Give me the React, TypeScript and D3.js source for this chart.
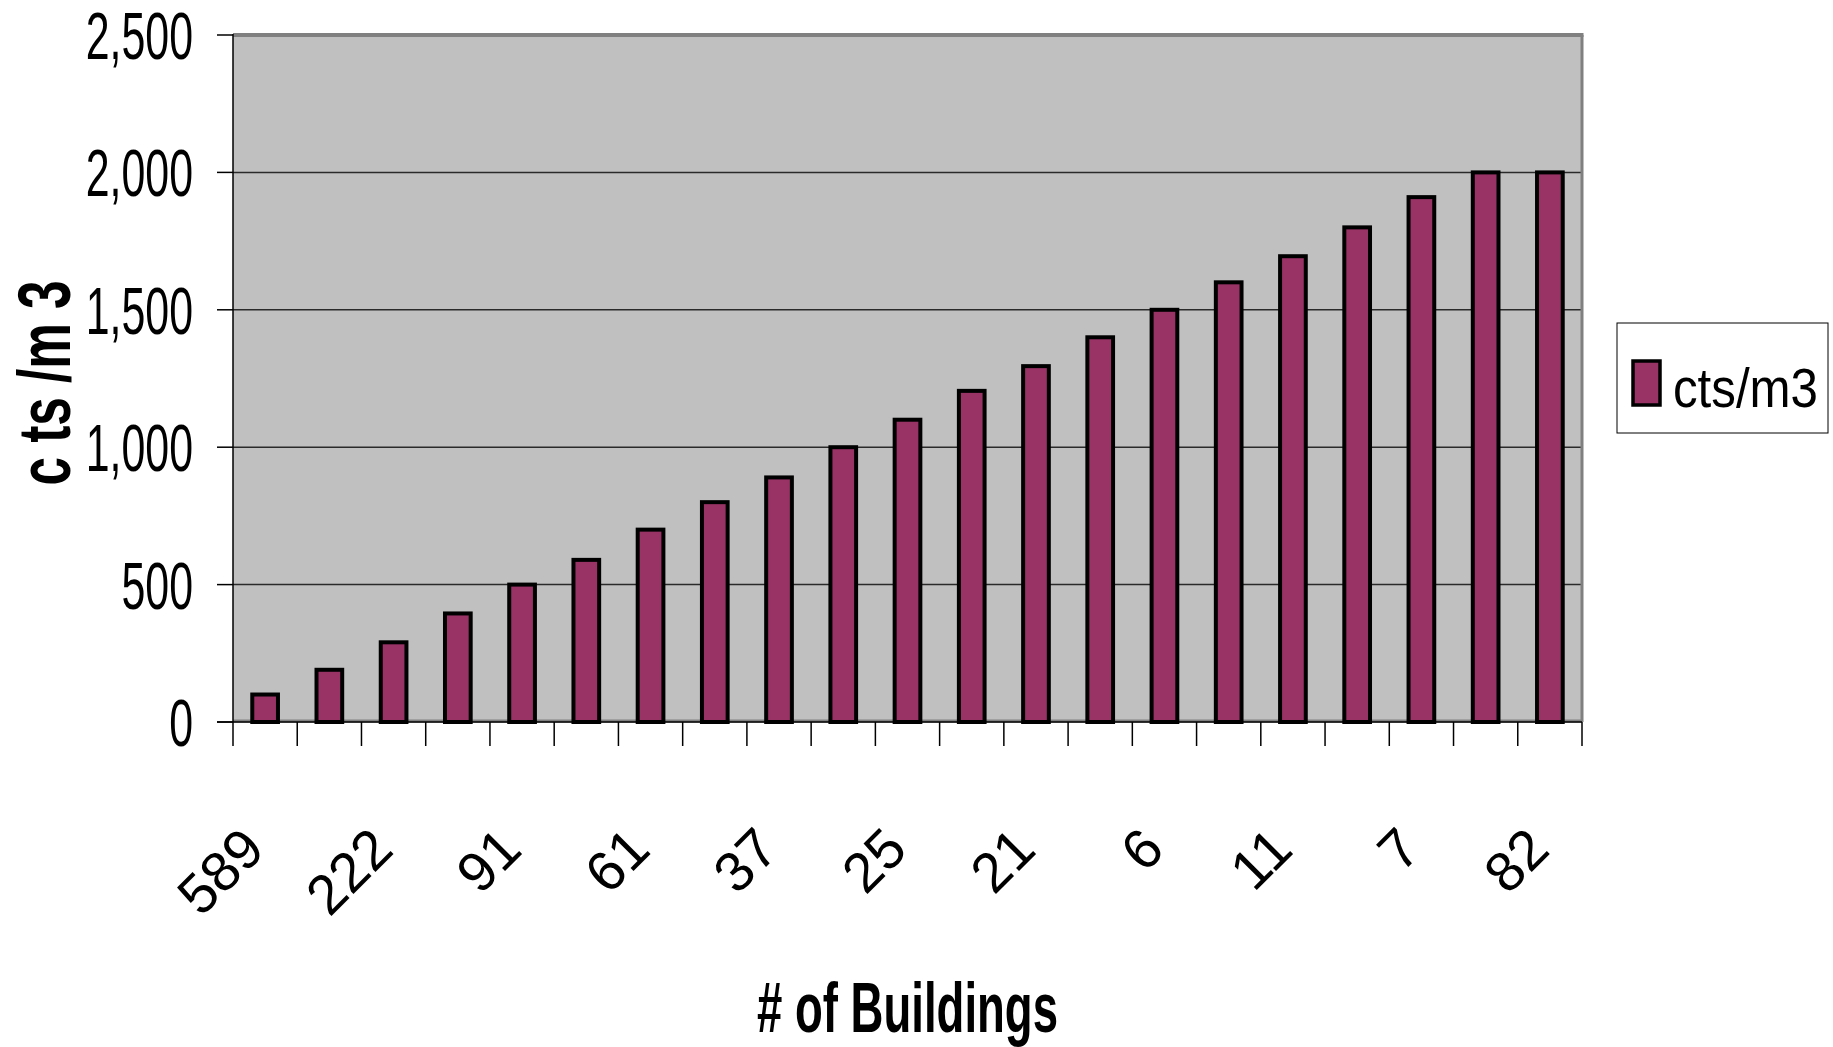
import React from "react";
import * as d3 from "d3";

const categoryIndex: number[] = [1, 2, 3, 4, 5, 6, 7, 8, 9, 10, 11, 12, 13, 14, 15, 16, 17, 18, 19, 20, 21];
const values: number[] = [100, 190, 290, 395, 500, 590, 700, 800, 890, 1000, 1100, 1205, 1295, 1400, 1500, 1600, 1695, 1800, 1910, 2000, 2000];
// Labels shown on the axis (every other category, starting with the first)
const shownLabels: string[] = ["589", "222", "91", "61", "37", "25", "21", "6", "11", "7", "82"];
const yTicks: number[] = [0, 500, 1000, 1500, 2000, 2500];
const seriesName = "cts/m3";
const yTitle = "c ts /m 3";
const xTitle = "# of Buildings";

const W = 1833;
const H = 1047;
const plot = { left: 233, right: 1582, top: 35, bottom: 722 };
const FONT = "'Liberation Sans', Arial, sans-serif";

export default function App() {
  const p = 0.6;
  const x = d3
    .scaleBand<number>()
    .domain(categoryIndex)
    .range([plot.left, plot.right])
    .paddingInner(p)
    .paddingOuter(p / 2);
  const step = x.step();
  const y = d3.scaleLinear().domain([0, 2500]).range([plot.bottom, plot.top]);
  const fmt = d3.format(",");

  const boundaries = d3.range(categoryIndex.length + 1).map((i) => plot.left + i * step);
  const labelled = categoryIndex.filter((_, i) => i % 2 === 0);

  return (
    <div style={{ position: "fixed", left: 0, top: 0 }}>
      <svg width={W} height={H} style={{ display: "block", background: "#fff" }}>
        {/* plot background */}
        <rect x={plot.left} y={plot.top} width={plot.right - plot.left} height={plot.bottom - plot.top} fill="#C0C0C0" />
        {/* gridlines */}
        {yTicks
          .filter((t) => t > 0 && t < 2500)
          .map((t) => (
            <line key={"g" + t} x1={plot.left} x2={plot.right} y1={y(t)} y2={y(t)} stroke="#2a2a2a" strokeWidth={1.5} />
          ))}
        {/* plot border (gray) */}
        <line x1={plot.left} x2={plot.right + 1.5} y1={plot.top} y2={plot.top} stroke="#808080" strokeWidth={4} />
        <line x1={plot.right} x2={plot.right} y1={plot.top} y2={plot.bottom} stroke="#808080" strokeWidth={3} />
        <line x1={plot.left} x2={plot.right} y1={plot.bottom - 1} y2={plot.bottom - 1} stroke="#808080" strokeWidth={3} />
        {/* bars */}
        {categoryIndex.map((c, i) => (
          <rect
            key={"b" + c}
            x={x(c)!}
            y={y(values[i])}
            width={x.bandwidth()}
            height={y(0) - y(values[i])}
            fill="#993366"
            stroke="#000"
            strokeWidth={4}
          />
        ))}
        {/* axes */}
        <line x1={plot.left} x2={plot.left} y1={plot.top - 1} y2={plot.bottom} stroke="#000" strokeWidth={1.5} />
        <line x1={plot.left - 16} x2={plot.right} y1={plot.bottom} y2={plot.bottom} stroke="#000" strokeWidth={1.5} />
        {yTicks.map((t) => (
          <g key={"yt" + t}>
            <line x1={plot.left - 16} x2={plot.left} y1={y(t)} y2={y(t)} stroke="#000" strokeWidth={1.5} />
            <text
              transform={`translate(193, ${y(t) + 24}) scale(0.64, 1)`}
              textAnchor="end"
              fontFamily={FONT}
              fontSize={67}
              fill="#000"
            >
              {fmt(t)}
            </text>
          </g>
        ))}
        {boundaries.map((bx, i) => (
          <line key={"xt" + i} x1={bx} x2={bx} y1={plot.bottom} y2={plot.bottom + 24} stroke="#000" strokeWidth={1.5} />
        ))}
        {labelled.map((c, i) => {
          const cx = x(c)! + x.bandwidth() / 2 + 2;
          return (
            <text
              key={"xl" + c}
              transform={`translate(${cx}, 852) rotate(-45)`}
              textAnchor="end"
              fontFamily={FONT}
              fontSize={56}
              fill="#000"
            >
              {shownLabels[i]}
            </text>
          );
        })}
        {/* axis titles */}
        <text
          transform={`translate(70, 383) rotate(-90)`}
          textAnchor="middle"
          fontFamily={FONT}
          fontWeight="bold"
          fontSize={74}
          textLength={205}
          lengthAdjust="spacingAndGlyphs"
          fill="#000"
        >
          {yTitle}
        </text>
        <text
          x={(plot.left + plot.right) / 2}
          y={1032}
          textAnchor="middle"
          fontFamily={FONT}
          fontWeight="bold"
          fontSize={70}
          textLength={301}
          lengthAdjust="spacingAndGlyphs"
          fill="#000"
        >
          {xTitle}
        </text>
        {/* legend */}
        <rect x={1617} y={323} width={211} height={110} fill="#fff" stroke="#000" strokeWidth={1} />
        <rect x={1633} y={361} width={27} height={44} fill="#993366" stroke="#000" strokeWidth={3.5} />
        <text
          x={1673}
          y={407}
          fontFamily={FONT}
          fontSize={55}
          textLength={145}
          lengthAdjust="spacingAndGlyphs"
          fill="#000"
        >
          {seriesName}
        </text>
      </svg>
    </div>
  );
}
